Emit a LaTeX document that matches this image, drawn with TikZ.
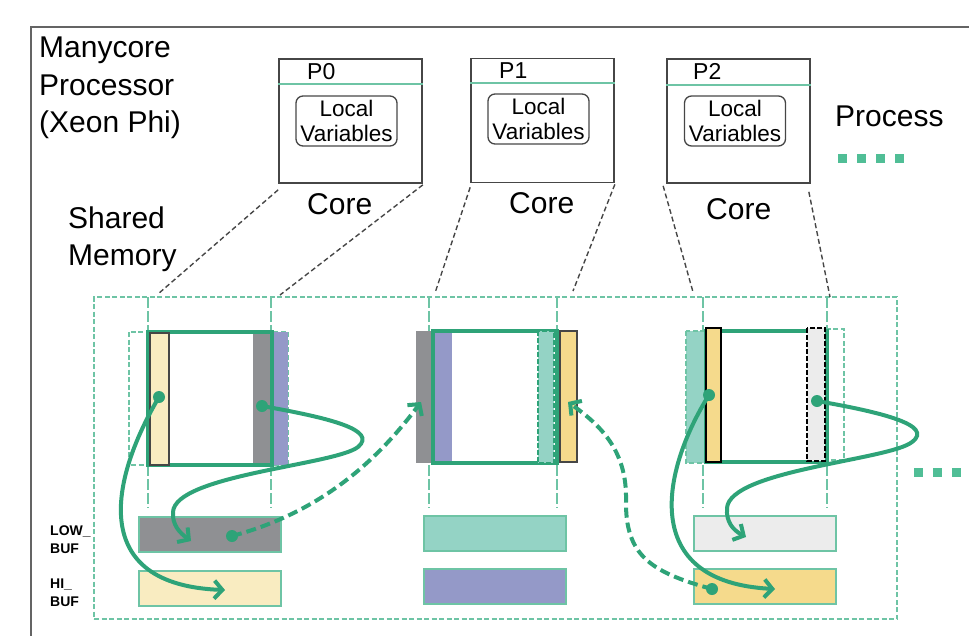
\documentclass[tikz,border=0pt]{standalone}
\usepackage{fontspec}
\setmainfont{Liberation Sans}
\usetikzlibrary{arrows.meta}
\definecolor{mgreen}{RGB}{46,163,120}
\definecolor{lgreen}{RGB}{110,196,165}
\definecolor{sqgreen}{RGB}{80,190,150}
\definecolor{lyellow}{RGB}{249,236,193}
\definecolor{syellow}{RGB}{245,218,140}
\definecolor{mgray}{RGB}{143,144,147}
\definecolor{mpurple}{RGB}{148,153,200}
\definecolor{mteal}{RGB}{148,211,197}
\definecolor{lgray}{RGB}{236,236,236}
\definecolor{framegray}{RGB}{100,100,100}
\definecolor{boxgray}{RGB}{70,70,70}
\begin{document}
\begin{tikzpicture}[x=1pt,y=-1pt,
  bigtxt/.style={font=\fontsize{30}{37}\selectfont, inner sep=0pt, anchor=base west},
  ptxt/.style={font=\fontsize{23}{26}\selectfont, inner sep=0pt, anchor=base west},
  buftxt/.style={font=\bfseries\fontsize{14}{17}\selectfont, inner sep=0pt, anchor=base west},
  corebox/.style={draw=boxgray, line width=1.7pt, minimum width=143pt, minimum height=124pt, inner sep=0pt},
  localbox/.style={draw=boxgray, line width=1.3pt, rounded corners=7pt, minimum width=101pt, minimum height=50pt, inner sep=0pt, align=center, font=\fontsize{22.5}{25.5}\selectfont},
  graydash/.style={draw=boxgray, line width=1.4pt, dash pattern=on 5pt off 3pt},
  memdash/.style={draw=lgreen, line width=1.2pt, dash pattern=on 5pt off 2.5pt},
  coldash/.style={draw=lgreen, line width=1.2pt, dash pattern=on 11pt off 3pt},
  mainrect/.style={draw=mgreen, line width=3.2pt},
  bufbox/.style={draw=lgreen, line width=1.4pt},
  flow/.style={draw=mgreen, line width=4pt, -{Straight Barb[length=8pt,width=18pt]}},
  flowdash/.style={flow, dash pattern=on 10pt off 5pt},
  dot/.style={circle, fill=mgreen, inner sep=0pt, minimum size=12pt}
]
\useasboundingbox (0,0) rectangle (969,635);

% outer frame
\draw[framegray, line width=2.2pt] (990,27) -- (31,27) -- (31,660);

% texts
\node[bigtxt] (t1) at (39,57) {Manycore};
\node[bigtxt] (t2) at (39,95) {Processor};
\node[bigtxt] (t3) at (39,132) {(Xeon Phi)};
\node[bigtxt] (t4) at (68,228) {Shared};
\node[bigtxt] (t5) at (68,265) {Memory};
\node[bigtxt] (t6) at (835,126) {Process};

% process dots
\foreach \i in {0,1,2,3} \fill[sqgreen] (838+\i*19,154) rectangle ++(9,9);
\foreach \i in {0,1,2} \fill[sqgreen] (914+\i*19,468) rectangle ++(9,9);

% cores
\node[corebox] (c0) at (350.5,121) {};
\node[corebox] (c1) at (542.5,120.5) {};
\node[corebox] (c2) at (738.5,121) {};
\draw[lgreen, line width=1.6pt] (c0.west |- 0,84) -- (c0.east |- 0,84);
\draw[lgreen, line width=1.6pt] (c1.west |- 0,83) -- (c1.east |- 0,83);
\draw[lgreen, line width=1.6pt] (c2.west |- 0,85) -- (c2.east |- 0,85);
\node[ptxt] (p0) at (307,79) {P0};
\node[ptxt] (p1) at (499,78) {P1};
\node[ptxt] (p2) at (693,79) {P2};
\node[localbox] (l0) at (346.5,121) {Local\\Variables};
\node[localbox] (l1) at (538.5,119) {Local\\Variables};
\node[localbox] (l2) at (735,121) {Local\\Variables};
\node[bigtxt] (k0) at (307,214) {Core};
\node[bigtxt] (k1) at (509,213) {Core};
\node[bigtxt] (k2) at (706,219) {Core};

% shared memory region
\node[memdash, minimum width=803pt, minimum height=322pt, inner sep=0pt] (mem) at (495.5,458) {};
\coordinate (e0l) at (158,294); \coordinate (e0r) at (280,295);
\coordinate (e1l) at (435,293); \coordinate (e1r) at (573,291);
\coordinate (e2l) at (693,292); \coordinate (e2r) at (830,297);
\draw[graydash] ([yshift=-6pt]c0.south west) -- (e0l);
\draw[graydash] ([yshift=-1pt]c0.south east) -- (e0r);
\draw[graydash] ([yshift=-4pt]c1.south west) -- (e1l);
\draw[graydash] ([yshift=-1pt]c1.south east) -- (e1r);
\draw[graydash] ([yshift=-2pt,xshift=-3pt]c2.south west) -- (e2l);
\draw[graydash] ([yshift=-8pt,xshift=-2pt]c2.south east) -- (e2r);

% column dashed lines
\foreach \x in {148,271,429,557,703,827} \draw[coldash] (\x,297) -- (\x,508);

% process 0 memory
\draw[memdash] (129,332) rectangle (288,465);
\fill[mgray] (253,332) rectangle (271,465);
\fill[mpurple] (271,332) rectangle (288,465);
\draw[mainrect] (148,332) rectangle (272,465);
\draw[draw=boxgray, line width=1.3pt, fill=lyellow] (150,333) rectangle (169,465);

% process 1 memory
\draw[fill=mgray, draw=none] (416,331) rectangle (432,463);
\draw[boxgray, line width=1.3pt] (432,331) -- (432,463);
\fill[mpurple] (434,332) rectangle (452,463);
\draw[mainrect] (433,331) rectangle (557,463);
\draw[fill=mteal, draw=mgreen, line width=1.2pt, dash pattern=on 5pt off 2pt] (538,331) rectangle (554,463);
\draw[draw=boxgray, line width=1.3pt, fill=syellow] (560,331) rectangle (577,462);

% process 2 memory
\draw[fill=mteal, memdash] (686,331) rectangle (706,463);
\draw[memdash] (827,329) rectangle (844,460);
\draw[mainrect] (706,331) rectangle (827,462);
\draw[draw=black, line width=1.5pt, fill=syellow] (706,328) rectangle (721,462);
\draw[draw=black, line width=1.4pt, fill=lgray, dash pattern=on 5pt off 2pt] (807,328) rectangle (825,461);

% buffers
\node[bufbox, fill=mgray, minimum width=142pt, minimum height=35pt, inner sep=0pt] (lo0) at (210,534.5) {};
\node[bufbox, fill=lyellow, minimum width=142pt, minimum height=35pt, inner sep=0pt] (hi0) at (210,588.5) {};
\node[bufbox, fill=mteal, minimum width=142pt, minimum height=35pt, inner sep=0pt] (lo1) at (495,533.5) {};
\node[bufbox, fill=mpurple, minimum width=142pt, minimum height=35pt, inner sep=0pt] (hi1) at (495,586.5) {};
\node[bufbox, fill=lgray, minimum width=142pt, minimum height=35pt, inner sep=0pt] (lo2) at (765,533.5) {};
\node[bufbox, fill=syellow, minimum width=142pt, minimum height=35pt, inner sep=0pt] (hi2) at (765,586.5) {};

\node[buftxt] (b1) at (50,535) {LOW\_};
\node[buftxt] (b2) at (50,553) {BUF};
\node[buftxt] (b3) at (50,588) {HI\_};
\node[buftxt] (b4) at (50,606) {BUF};

% dots
\node[dot] (d0a) at (159,397) {};
\node[dot] (d0b) at (262,406) {};
\node[dot] (d2a) at (709,395) {};
\node[dot] (d2b) at (817,401) {};
\node[dot] (dl0) at (232,536) {};
\node[dot] (dh2) at (712,589) {};

\coordinate (a0a) at (225,590);
\coordinate (a0b) at (191,541);
\coordinate (a2a) at (775,589);
\coordinate (a2b) at (746,537);
\coordinate (a1l) at (421,402);
\coordinate (a1r) at (568,402);

% arrows
\draw[flow] (d0a.center) .. controls (110,480) and (88,585) .. (a0a);
\draw[flow] (d0b.center) .. controls (330,418) and (378,430) .. (358,447)
   .. controls (335,465) and (175,475) .. (173,512)
   .. controls (172,525) and (180,533) .. (a0b);
\draw[flow] (d2a.center) .. controls (662,470) and (638,582) .. (a2a);
\draw[flow] (d2b.center) .. controls (880,412) and (935,425) .. (912,442)
   .. controls (890,460) and (730,470) .. (727,508)
   .. controls (726,522) and (733,530) .. (a2b);
\draw[flowdash] (dl0.center) .. controls (330,510) and (385,450) .. (a1l);
\draw[flowdash] (dh2.center) .. controls (650,572) and (625,555) .. (626,500)
   .. controls (627,450) and (600,425) .. (a1r);
\end{tikzpicture}
\end{document}
